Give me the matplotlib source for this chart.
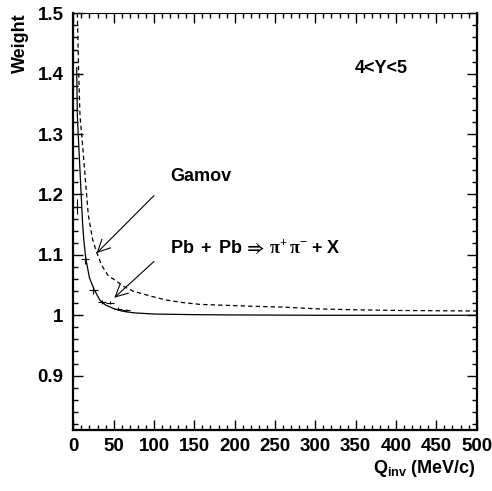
import matplotlib
matplotlib.use("Agg")
import matplotlib.pyplot as plt
from matplotlib.ticker import MultipleLocator, FixedLocator, FixedFormatter

plt.rcParams['font.family'] = ['Liberation Sans', 'DejaVu Sans']
plt.rcParams['font.weight'] = 'bold'
plt.rcParams['mathtext.fontset'] = 'custom'
plt.rcParams['mathtext.rm'] = 'Liberation Serif'
plt.rcParams['mathtext.it'] = 'Liberation Serif:italic'
plt.rcParams['mathtext.bf'] = 'Liberation Sans:bold'
plt.rcParams['mathtext.fallback'] = 'stix'

# Pb+Pb weight curve (solid)
q_pbpb = [4.2, 5, 7, 9, 11.6, 13, 15.5, 20, 26, 33, 40, 50, 60, 75, 100, 150, 200, 300, 400, 500]
w_pbpb = [1.41, 1.33, 1.275, 1.22, 1.15, 1.125, 1.094, 1.062, 1.042, 1.025, 1.017, 1.011,
          1.007, 1.004, 1.002, 1.001, 1.0005, 1.0, 1.0, 1.0]

# Gamov factor curve (dashed)
q_gamov = [5, 6.5, 8.3, 11, 14, 18.6, 24, 29, 35, 43, 54, 62, 74, 95, 116, 136, 157, 178,
           219, 260, 305, 350, 400, 450, 500]
w_gamov = [1.50, 1.41, 1.33, 1.29, 1.24, 1.166, 1.125, 1.104, 1.083, 1.066, 1.056, 1.048,
           1.040, 1.032, 1.025, 1.021, 1.018, 1.017, 1.015, 1.0135, 1.0105, 1.009, 1.008,
           1.0075, 1.007]

# Histogram points with errors
q_pts = [5, 15, 25, 35, 45, 55, 65]
w_pts = [1.18, 1.093, 1.042, 1.022, 1.021, 1.011, 1.008]
w_err = [0.012, 0.008, 0.006, 0.003, 0.003, 0.002, 0.002]
q_err = [5, 5, 5, 5, 5, 5, 5]

xticks = [0, 50, 100, 150, 200, 250, 300, 350, 400, 450, 500]
yticks = [0.9, 1.0, 1.1, 1.2, 1.3, 1.4, 1.5]
ytick_labels = ['0.9', '1', '1.1', '1.2', '1.3', '1.4', '1.5']

fig = plt.figure(figsize=(4.92, 4.91), dpi=100)
ax = fig.add_axes([73.3 / 492, 1 - 430 / 491, (476.7 - 73.3) / 492, (430 - 13.3) / 491])

ax.plot(q_pbpb, w_pbpb, color='black', lw=0.9)
ax.plot(q_gamov, w_gamov, color='black', lw=0.9, linestyle=(0, (3.5, 2.5)))
ax.errorbar(q_pts, w_pts, xerr=q_err, yerr=w_err, fmt='none', ecolor='black',
            elinewidth=0.8, capsize=0)

ax.set_xlim(0, 500)
ax.set_ylim(0.81, 1.5)

ax.xaxis.set_major_locator(FixedLocator(xticks))
ax.xaxis.set_minor_locator(MultipleLocator(10))
ax.yaxis.set_major_locator(FixedLocator(yticks))
ax.yaxis.set_major_formatter(FixedFormatter(ytick_labels))
ax.yaxis.set_minor_locator(MultipleLocator(0.02))

ax.tick_params(which='both', direction='in', top=True, right=True, width=1.0)
ax.tick_params(which='major', length=7, labelsize=13.5, pad=7)
ax.tick_params(which='minor', length=3.5)
ax.tick_params(axis='x', which='major', pad=6)
for lab in ax.get_xticklabels() + ax.get_yticklabels():
    lab.set_fontweight('bold')

for side in ['left', 'bottom', 'right']:
    ax.spines[side].set_linewidth(1.6)
ax.spines['top'].set_linewidth(0.8)

ax.text(120, 1.229, 'Gamov', fontsize=13, fontweight='bold', va='center', ha='left')
ax.text(120, 1.111, r'$\mathbf{Pb\ +\ Pb}\,\Rightarrow\,\mathrm{\pi}^{+}\,\mathrm{\pi}^{-}\ \mathbf{+\ X}$',
        fontsize=13, va='center', ha='left')
ax.text(349, 1.409, '4<Y<5', fontsize=13, fontweight='bold', va='center', ha='left')

arrow = dict(arrowstyle='->', lw=0.8, color='black', mutation_scale=22, shrinkA=0, shrinkB=0)
ax.annotate('', xy=(29, 1.103), xytext=(100, 1.198), arrowprops=arrow)
ax.annotate('', xy=(50.8, 1.029), xytext=(100, 1.089), arrowprops=arrow)

fig.text(20 / 492, 1 - 13 / 491, 'Weight', rotation=90, ha='center', va='top',
         fontsize=13, fontweight='bold')
fig.text(476 / 492, 1 - 458 / 491, r'$\mathbf{Q_{inv}}$ (MeV/c)', ha='right', va='top',
         fontsize=13, fontweight='bold')

fig.savefig('out.png', dpi=100)
